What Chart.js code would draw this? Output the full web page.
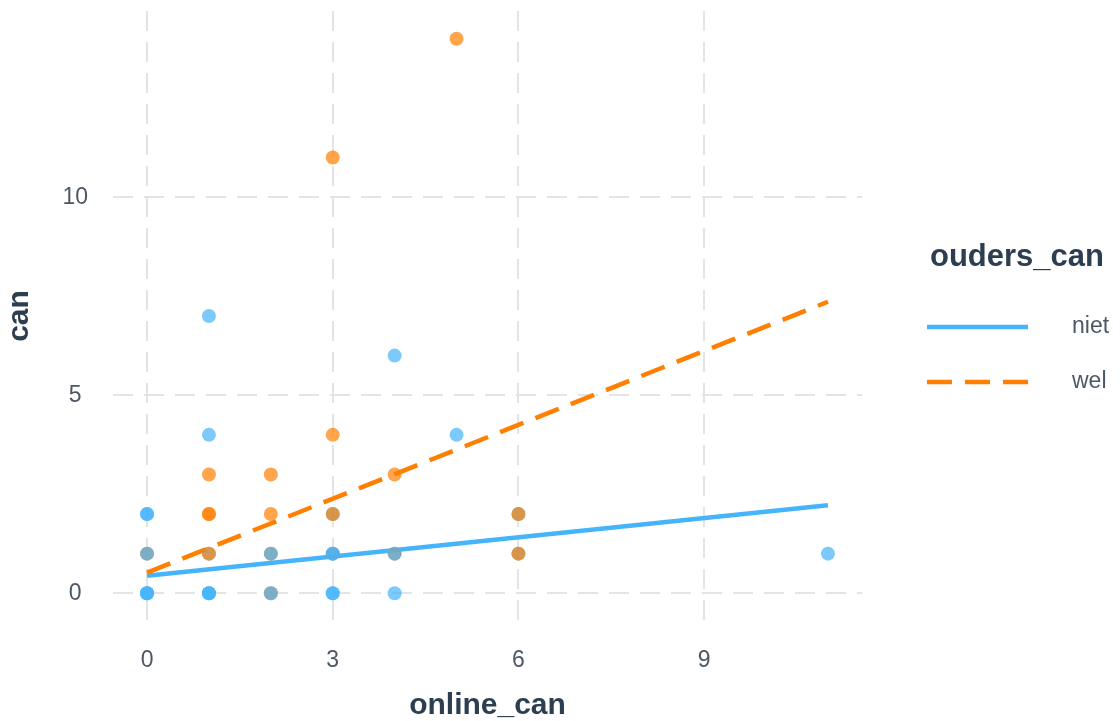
<!DOCTYPE html>
<html>
<head>
<meta charset="utf-8">
<script src="https://cdn.jsdelivr.net/npm/chart.js@4/dist/chart.umd.min.js"></script>
<style>
  html, body { margin: 0; padding: 0; background: #ffffff; }
  #wrap { width: 1120px; height: 721px; }
</style>
</head>
<body>
<div id="wrap"><canvas id="c" width="1120" height="721"></canvas></div>
<script>
// Observations, one entry per respondent (drawn in this order)
const onlineCan = [0,0,0,1,1,1,3,3,4,2,2,0,0,1,1,2,2,3,3,3,4,4,6,6,11,0,0,1,1,2,3,3,6,6,1,2,4,1,3,5,4,1,3,5];
const can       = [0,0,0,0,0,0,0,0,0,0,0,1,1,1,1,1,1,1,1,1,1,1,1,1,1,2,2,2,2,2,2,2,2,2,3,3,3,4,4,4,6,7,11,14];
const oudersCan = ['niet','niet','niet','niet','niet','niet','niet','niet','niet',
                   'wel','niet','wel','niet','niet','wel','wel','niet','wel','niet','niet',
                   'wel','niet','niet','wel','niet','niet','niet','wel','wel','wel',
                   'niet','wel','niet','wel','wel','wel','wel','niet','wel','niet',
                   'niet','niet','wel','wel'];

// Fitted regression lines per group, evaluated at the ends of the x range
const fitX    = [0, 11];
const fitNiet = [0.44, 2.22];
const fitWel  = [0.52, 7.36];

// Axis ticks and limits
const xTicks = [0, 3, 6, 9];
const yTicks = [0, 5, 10];
const xLimits = [-0.55, 11.55];
const yLimits = [-0.7, 14.7];

const groupLabels = ['niet', 'wel'];
const legendTitle = 'ouders_can';

const FONT = '"Liberation Sans", Arial, Helvetica, sans-serif';
const TICK_COLOR = '#4d5866';
const TITLE_COLOR = '#2c3e50';
const GRID_COLOR = '#e4e4e4';

const lineColor  = { niet: '#45b4fb', wel: '#ff7f00' };
const pointColor = { niet: 'rgba(69,180,251,0.7)', wel: 'rgba(255,127,0,0.7)' };

const points = onlineCan.map((x, i) => ({ x: x, y: can[i] }));
const toLine = ys => fitX.map((x, i) => ({ x: x, y: ys[i] }));

// Legend on the right: title plus one line sample per group
const sideLegend = {
  id: 'sideLegend',
  afterDraw(chart) {
    const ctx = chart.ctx;
    ctx.save();
    ctx.textBaseline = 'middle';
    ctx.textAlign = 'left';
    ctx.fillStyle = TITLE_COLOR;
    ctx.font = 'bold 31px ' + FONT;
    ctx.fillText(legendTitle, 930, 257);
    const lines = chart.data.datasets.filter(d => d.type === 'line');
    lines.forEach((d, i) => {
      const y = 327 + i * 55;
      ctx.strokeStyle = d.borderColor;
      ctx.lineWidth = d.borderWidth;
      ctx.setLineDash(d.borderDash || []);
      ctx.beginPath();
      ctx.moveTo(927, y);
      ctx.lineTo(1028, y);
      ctx.stroke();
      ctx.setLineDash([]);
      ctx.fillStyle = TICK_COLOR;
      ctx.font = '23px ' + FONT;
      ctx.fillText(d.label, 1072, y);
    });
    ctx.restore();
  }
};

// Fixed axis sizes so the plotting area keeps its place
const fixX = s => { s.height = 100; s.paddingLeft = 0; s.paddingRight = 0; };
const fixY = s => { s.width = 113; s.paddingTop = 0; s.paddingBottom = 0; };

new Chart(document.getElementById('c'), {
  type: 'scatter',
  data: {
    datasets: [
      {
        label: 'punten',
        data: points,
        backgroundColor: c => pointColor[oudersCan[c.dataIndex]],
        borderWidth: 0,
        pointRadius: 7,
        pointHoverRadius: 7,
        order: 0
      },
      {
        type: 'line',
        label: groupLabels[0],
        data: toLine(fitNiet),
        borderColor: lineColor.niet,
        borderWidth: 4.5,
        pointRadius: 0,
        fill: false,
        tension: 0,
        order: 2
      },
      {
        type: 'line',
        label: groupLabels[1],
        data: toLine(fitWel),
        borderColor: lineColor.wel,
        borderWidth: 4.5,
        borderDash: [25, 13],
        pointRadius: 0,
        fill: false,
        tension: 0,
        order: 1
      }
    ]
  },
  options: {
    responsive: false,
    animation: false,
    devicePixelRatio: 1,
    layout: { padding: { top: 11, right: 258, bottom: 0, left: 0 } },
    plugins: {
      legend: { display: false },
      tooltip: { enabled: false }
    },
    scales: {
      x: {
        type: 'linear',
        min: xLimits[0],
        max: xLimits[1],
        afterBuildTicks: s => { s.ticks = xTicks.map(v => ({ value: v })); },
        afterFit: fixX,
        ticks: { padding: 26, color: TICK_COLOR, font: { family: FONT, size: 23 } },
        grid: { color: GRID_COLOR, lineWidth: 2, drawTicks: false },
        border: { display: false, dash: [20, 11] },
        title: {
          display: true,
          text: 'online_can',
          color: TITLE_COLOR,
          font: { family: FONT, size: 30, weight: 'bold', lineHeight: 1 },
          padding: { top: 0, bottom: 0 }
        }
      },
      y: {
        type: 'linear',
        min: yLimits[0],
        max: yLimits[1],
        afterBuildTicks: s => { s.ticks = yTicks.map(v => ({ value: v })); },
        afterFit: fixY,
        ticks: { padding: 25, crossAlign: 'center', color: TICK_COLOR, font: { family: FONT, size: 23 } },
        grid: { color: GRID_COLOR, lineWidth: 2, drawTicks: false },
        border: { display: false, dash: [20, 11] },
        title: {
          display: true,
          text: 'can',
          color: TITLE_COLOR,
          font: { family: FONT, size: 30, weight: 'bold', lineHeight: 1 },
          padding: { top: 5, bottom: 5 }
        }
      }
    }
  },
  plugins: [sideLegend]
});
</script>
</body>
</html>
